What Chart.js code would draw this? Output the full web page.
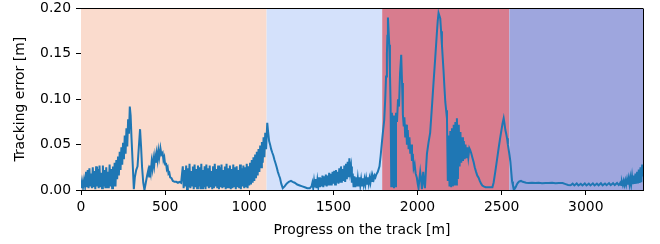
<!DOCTYPE html>
<html>
<head>
<meta charset="utf-8">
<script src="https://cdn.jsdelivr.net/npm/chart.js@4/dist/chart.umd.min.js"></script>
<style>
  html, body { margin: 0; padding: 0; background: #ffffff; }
  #wrap { width: 660px; height: 244px; }
</style>
</head>
<body>
<div id="wrap"><canvas id="c" width="660" height="244"></canvas></div>
<script>
// ---- data ----
const progress = [
  0,6,12,18,24,30,35,40,45,50,
  55,60,65,70,75,80,85,90,95,100,
  105,110,115,120,125,130,135,140,145,150,
  155,160,165,170,175,180,185,190,195,200,
  205,210,215,220,225,230,235,240,245,250,
  255,260,265,270,275,280,285,290,295,300,
  307,314,320,328,336,344,351,357,363,370,
  377,385,393,400,405,410,415,420,425,430,
  435,440,445,450,455,460,465,472,478,485,
  490,495,500,505,510,515,520,525,530,538,
  546,556,566,576,586,595,
  600,605,610,615,620,625,630,635,640,645,
  650,655,660,665,670,675,680,685,690,695,
  700,705,710,715,720,725,730,735,740,745,
  750,755,760,765,770,775,780,785,790,795,
  800,805,810,815,820,825,830,835,840,845,
  850,855,860,865,870,875,880,885,890,895,
  900,905,910,915,920,925,930,935,940,945,
  950,955,960,965,970,975,980,985,990,995,
  1000,1005,1010,1015,1020,1025,1030,1035,1040,1045,
  1050,1055,1060,1065,1070,1075,1080,1085,1090,1095,
  1100,1107,1112,1118,1124,1130,1137,1143,1150,1157,
  1163,1170,1177,1183,1190,1199,1210,1222,1235,1248,
  1258,1270,1285,1300,1315,1330,1345,1360,
  1370,1375,1380,1385,1390,1395,1400,1405,1410,1415,
  1420,1425,1430,1435,1440,1445,1450,1455,1460,1465,
  1470,1475,1480,1485,1490,1495,1500,1505,1510,1515,
  1520,1525,1530,1535,1540,1545,1550,1555,1560,1565,
  1570,1575,1580,1585,1590,1595,1600,
  1605,1610,1615,1620,1625,1630,1635,1640,1645,1650,
  1655,1660,1665,1670,1675,1680,1685,1690,1695,1700,
  1705,1710,1715,1720,1725,1730,1735,1740,1745,1750,
  1755,1764,1774,1781,1788,
  1795,1802,1808,1813,1818,1821,1824,1828,1832,1836,
  1840,1844,1848,1852,1856,1860,1864,1868,1872,1878,
  1884,1890,1896,1903,1908,1913,1918,1922,1927,1932,
  1937,1942,1947,1952,1957,1962,1967,1972,1977,1983,
  1989,1996,2001,2006,2011,2016,2021,2026,2030,2034,
  2039,2044,2050,2056,2065,2075,2085,2095,2105,2115,
  2120,2125,2130,2135,2140,2145,2150,2155,2160,2165,
  2170,2175,2180,2185,2190,2195,2200,2205,2210,2215,
  2220,2225,2230,2234,2240,2245,2250,2255,2260,2265,
  2270,2275,2280,2285,2290,2296,2302,2308,2313,2320,
  2327,2333,2340,2348,2355,2363,2370,2378,2385,2393,
  2405,2415,2430,2445,2452,2462,2472,2482,2490,2497,
  2505,2512,2517,2522,2527,2532,2537,2542,2547,2552,
  2557,2562,2567,2571,2576,2583,2590,2597,2605,2615,
  2625,2635,2645,2660,2680,2700,2720,2740,2760,2780,
  2800,2820,2840,2862,2880,2895,2910,2922,2932,2946,
  2956,2970,2980,2994,3004,3018,3028,3042,3052,3066,
  3076,3090,3100,3114,3124,3138,3148,3162,3172,3186,
  3196,3200,3205,3210,3215,3220,3225,3230,3235,3240,
  3245,3250,3255,3260,3265,3270,3275,3280,3285,3290,
  3295,3300,3305,3310,3315,3320,3325,3330,3335,3340
];
const trackingError = [
  0.002,0.010,0.003,0.011,0.004,0.020,0.003,0.022,0.002,0.024,
  0.004,0.018,0.002,0.025,0.003,0.021,0.001,0.026,0.004,0.023,
  0.002,0.027,0.003,0.019,0.002,0.027,0.004,0.022,0.002,0.025,
  0.003,0.020,0.002,0.028,0.004,0.023,0.002,0.026,0.004,0.030,
  0.004,0.033,0.012,0.037,0.016,0.042,0.022,0.047,0.028,0.052,
  0.034,0.060,0.040,0.068,0.048,0.078,0.062,0.092,0.082,0.058,
  0.030,0.001,0.014,0.022,0.026,0.048,0.067,0.048,0.025,0.008,
  0.000,0.008,0.016,0.022,0.015,0.027,0.020,0.031,0.024,0.034,
  0.027,0.037,0.030,0.040,0.033,0.043,0.036,0.046,0.039,0.041,
  0.033,0.036,0.028,0.030,0.023,0.025,0.018,0.019,0.014,0.013,
  0.010,0.009,0.009,0.008,0.009,0.008,
  0.008,0.026,0.002,0.022,0.004,0.027,0.001,0.024,0.003,0.029,
  0.002,0.021,0.005,0.026,0.001,0.028,0.003,0.023,0.002,0.027,
  0.004,0.025,0.001,0.029,0.002,0.022,0.003,0.026,0.001,0.028,
  0.004,0.024,0.002,0.027,0.003,0.021,0.001,0.026,0.002,0.029,
  0.004,0.023,0.002,0.027,0.001,0.025,0.003,0.028,0.002,0.022,
  0.004,0.026,0.001,0.029,0.002,0.024,0.003,0.027,0.001,0.023,
  0.002,0.028,0.004,0.025,0.001,0.026,0.003,0.022,0.002,0.028,
  0.001,0.024,0.004,0.027,0.002,0.025,0.003,0.029,0.002,0.026,
  0.005,0.030,0.006,0.033,0.008,0.036,0.010,0.039,0.013,0.042,
  0.016,0.045,0.020,0.049,0.025,0.053,0.030,0.058,0.036,0.063,
  0.045,0.074,0.064,0.054,0.050,0.045,0.041,0.038,0.033,0.029,
  0.025,0.020,0.016,0.013,0.007,0.002,0.004,0.007,0.009,0.010,
  0.009,0.008,0.006,0.005,0.004,0.003,0.002,0.002,
  0.004,0.008,0.002,0.010,0.003,0.012,0.002,0.011,0.004,0.014,
  0.003,0.013,0.004,0.016,0.003,0.015,0.005,0.017,0.004,0.016,
  0.005,0.019,0.006,0.018,0.005,0.020,0.007,0.021,0.006,0.022,
  0.008,0.020,0.007,0.024,0.009,0.026,0.008,0.023,0.010,0.027,
  0.009,0.029,0.012,0.031,0.014,0.035,0.020,
  0.026,0.008,0.018,0.003,0.015,0.003,0.014,0.004,0.013,0.004,
  0.014,0.005,0.012,0.005,0.013,0.006,0.012,0.006,0.013,0.007,
  0.014,0.007,0.013,0.008,0.015,0.010,0.015,0.012,0.016,0.014,
  0.017,0.020,0.026,0.038,0.052,
  0.065,0.077,0.100,0.125,0.150,0.170,0.190,0.175,0.160,0.130,
  0.094,0.004,0.085,0.003,0.082,0.002,0.078,0.004,0.085,0.075,
  0.100,0.092,0.128,0.149,0.118,0.083,0.070,0.080,0.058,0.072,
  0.050,0.066,0.045,0.058,0.040,0.050,0.032,0.040,0.024,0.028,
  0.018,0.0135,0.007,0.002,0.012,0.020,0.012,0.001,0.012,0.020,
  0.008,0.002,0.022,0.040,0.052,0.063,0.090,0.118,0.145,0.173,
  0.186,0.195,0.192,0.189,0.175,0.160,0.145,0.130,0.113,0.097,
  0.088,0.079,0.010,0.060,0.004,0.065,0.003,0.068,0.004,0.072,
  0.005,0.075,0.006,0.079,0.012,0.072,0.026,0.064,0.030,0.058,
  0.032,0.054,0.034,0.050,0.035,0.047,0.036,0.046,0.044,0.040,
  0.035,0.031,0.025,0.020,0.016,0.0135,0.010,0.007,0.005,0.004,
  0.003,0.003,0.003,0.003,0.008,0.020,0.033,0.046,0.056,0.064,
  0.073,0.079,0.073,0.066,0.062,0.057,0.050,0.044,0.038,0.031,
  0.020,0.0095,0.005,0.003,0.001,0.003,0.006,0.008,0.0095,0.010,
  0.009,0.0085,0.008,0.0078,0.0080,0.0076,0.0079,0.0075,0.0078,0.0076,
  0.0079,0.0075,0.0077,0.0076,0.0065,0.0055,0.0052,0.0070,0.0050,0.0072,
  0.0050,0.0068,0.0050,0.0072,0.0050,0.0070,0.0050,0.0073,0.0050,0.0070,
  0.0051,0.0074,0.0052,0.0072,0.0053,0.0076,0.0053,0.0075,0.0054,0.0078,
  0.0055,0.0062,0.0080,0.0055,0.0090,0.0056,0.0100,0.0058,0.0105,0.0060,
  0.0115,0.0060,0.0125,0.0062,0.0135,0.0064,0.0150,0.0065,0.0160,0.0068,
  0.0180,0.0070,0.0200,0.0072,0.0225,0.0078,0.0250,0.0085,0.0280,0.0150
];
// background track sections
const sectionStart = [0, 1103, 1790, 2546];
const sectionEnd   = [1103, 1790, 2546, 3340];
const sectionColor = ['#fadbcd', '#d4e1fb', '#d87c8e', '#9ea6de'];
// axes
const xMax = 3340;
const yMax = 0.2;
const xTicks = [0, 500, 1000, 1500, 2000, 2500, 3000];
const yTicks = [0, 0.05, 0.10, 0.15, 0.20];
const xTitle = 'Progress on the track [m]';
const yTitle = 'Tracking error [m]';

if (progress.length !== trackingError.length) {
  console.error('length mismatch', progress.length, trackingError.length);
}

const FONT = 'DejaVu Sans';
const FS = 13.9;

const sectionsPlugin = {
  id: 'sections',
  beforeDatasetsDraw(chart) {
    const {ctx, chartArea, scales} = chart;
    ctx.save();
    for (let i = 0; i < sectionStart.length; i++) {
      const x0 = scales.x.getPixelForValue(sectionStart[i]);
      const x1 = scales.x.getPixelForValue(sectionEnd[i]);
      ctx.fillStyle = sectionColor[i];
      ctx.fillRect(x0, chartArea.top, x1 - x0, chartArea.bottom - chartArea.top);
    }
    ctx.restore();
  },
  afterDatasetsDraw(chart) {
    const {ctx, chartArea} = chart;
    ctx.save();
    ctx.strokeStyle = '#000';
    ctx.lineWidth = 1;
    ctx.beginPath();
    ctx.moveTo(chartArea.left, Math.round(chartArea.top) + 0.5);
    ctx.lineTo(chartArea.right, Math.round(chartArea.top) + 0.5);
    ctx.moveTo(Math.round(chartArea.right) + 0.5, chartArea.top);
    ctx.lineTo(Math.round(chartArea.right) + 0.5, chartArea.bottom);
    ctx.stroke();
    ctx.restore();
  }
};

const n = Math.min(progress.length, trackingError.length);
const points = [];
for (let i = 0; i < n; i++) points.push({x: progress[i], y: trackingError[i]});

new Chart(document.getElementById('c'), {
  type: 'line',
  data: {
    datasets: [{
      data: points,
      borderColor: '#1f77b4',
      borderWidth: 2,
      pointRadius: 0,
      tension: 0,
      fill: false
    }]
  },
  options: {
    responsive: false,
    animation: false,
    devicePixelRatio: 1,
    layout: { padding: { top: 8, right: 17, left: 0, bottom: 0 } },
    plugins: { legend: { display: false }, tooltip: { enabled: false } },
    scales: {
      x: {
        type: 'linear',
        min: 0, max: xMax,
        afterFit(s) { s.height = 54; },
        afterBuildTicks(s) { s.ticks = xTicks.map(v => ({value: v})); },
        ticks: {
          autoSkip: false,
          color: '#000',
          font: { family: FONT, size: FS },
          padding: 4,
          maxRotation: 0,
          callback: v => String(v)
        },
        grid: { display: true, drawOnChartArea: false, drawTicks: true, tickLength: 5, tickColor: '#000', tickWidth: 1 },
        border: { display: true, color: '#000', width: 1 },
        title: { display: true, text: xTitle, color: '#000', font: { family: FONT, size: FS }, padding: { top: 0, bottom: 5 } }
      },
      y: {
        type: 'linear',
        min: 0, max: yMax,
        afterFit(s) { s.width = 81; },
        afterBuildTicks(s) { s.ticks = yTicks.map(v => ({value: v})); },
        ticks: {
          autoSkip: false,
          color: '#000',
          font: { family: FONT, size: FS, lineHeight: 0.5 },
          padding: 5,
          callback: v => Number(v).toFixed(2)
        },
        grid: { display: true, drawOnChartArea: false, drawTicks: true, tickLength: 5, tickColor: '#000', tickWidth: 1 },
        border: { display: true, color: '#000', width: 1 },
        title: { display: true, text: yTitle, color: '#000', font: { family: FONT, size: FS }, padding: { top: 12, bottom: 0 } }
      }
    }
  },
  plugins: [sectionsPlugin]
});
</script>
</body>
</html>
